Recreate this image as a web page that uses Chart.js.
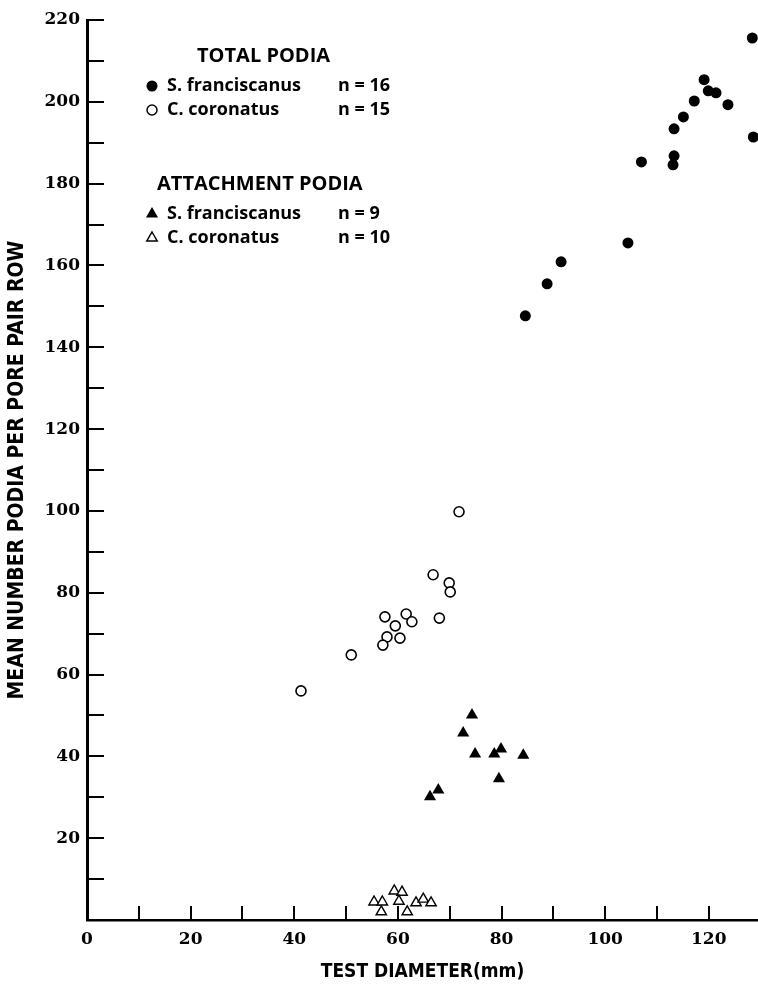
<!DOCTYPE html>
<html>
<head>
<meta charset="utf-8">
<script src="https://cdn.jsdelivr.net/npm/chart.js@4.4.1/dist/chart.umd.min.js"></script>
<style>
html, body { margin: 0; padding: 0; background: #fff; }
</style>
</head>
<body>
<canvas id="canvas" width="758" height="989"></canvas>
<script>
// total podia, S. franciscanus (n = 16)
var sfTotalDiam  = [84.6, 88.8, 91.5, 104.4, 107.0, 113.1, 113.3, 113.3, 115.1, 117.2, 119.1, 119.9, 121.4, 123.7, 128.6, 128.4];
var sfTotalPodia = [147.7, 155.5, 160.9, 165.5, 185.3, 184.6, 186.8, 193.4, 196.3, 200.2, 205.4, 202.7, 202.2, 199.3, 191.4, 215.6];

// total podia, C. coronatus (n = 15)
var ccTotalDiam  = [71.8, 66.8, 69.9, 70.1, 57.5, 61.6, 62.7, 59.5, 68.0, 57.9, 60.4, 57.1, 51.0, 41.3];
var ccTotalPodia = [99.8, 84.4, 82.4, 80.2, 74.1, 74.8, 72.9, 71.9, 73.8, 69.2, 68.9, 67.2, 64.8, 56.0];

// attachment podia, S. franciscanus (n = 9)
var sfAttDiam  = [74.3, 72.6, 74.9, 78.6, 79.9, 84.2, 79.5, 66.2, 67.8];
var sfAttPodia = [50.1, 45.7, 40.6, 40.6, 41.8, 40.3, 34.5, 30.1, 31.8];

// attachment podia, C. coronatus (n = 10)
var ccAttDiam  = [55.4, 57.0, 56.8, 59.3, 60.8, 60.2, 61.8, 63.5, 64.9, 66.4];
var ccAttPodia = [4.4, 4.4, 2.0, 7.1, 6.8, 4.6, 2.0, 4.2, 5.1, 4.2];

// tick positions (labels only every 20)
var xTickValues = [0, 10, 20, 30, 40, 50, 60, 70, 80, 90, 100, 110, 120];
var yTickValues = [0, 10, 20, 30, 40, 50, 60, 70, 80, 90, 100, 110, 120, 130, 140, 150, 160, 170, 180, 190, 200, 210, 220];

var xTitle = 'TEST DIAMETER(mm)';
var yTitle = 'MEAN NUMBER PODIA PER PORE PAIR ROW';

var legendGroups = [
  {title: 'TOTAL PODIA', rows: [
    {name: 'S. franciscanus', n: 'n = 16', style: 'circle', filled: true},
    {name: 'C. coronatus', n: 'n = 15', style: 'circle', filled: false}
  ]},
  {title: 'ATTACHMENT PODIA', rows: [
    {name: 'S. franciscanus', n: 'n = 9', style: 'triangle', filled: true},
    {name: 'C. coronatus', n: 'n = 10', style: 'triangle', filled: false}
  ]}
];

function toPoints(xs, ys) {
  return xs.map(function (x, i) { return {x: x, y: ys[i]}; });
}

function drawMark(ctx, style, filled, x, y) {
  ctx.beginPath();
  if (style === 'circle') {
    ctx.arc(x, y, filled ? 5.5 : 5, 0, Math.PI * 2);
  } else {
    var r = filled ? 7 : 6;
    ctx.moveTo(x, y - r);
    ctx.lineTo(x + r * 0.866, y + r * 0.5);
    ctx.lineTo(x - r * 0.866, y + r * 0.5);
    ctx.closePath();
  }
  if (filled) {
    ctx.fillStyle = '#000';
    ctx.fill();
  } else {
    ctx.fillStyle = '#fff';
    ctx.fill();
    ctx.lineWidth = 1.5;
    ctx.strokeStyle = '#000';
    ctx.stroke();
  }
}

// tick marks point into the plot, like the original figure
var insideTicks = {
  id: 'insideTicks',
  beforeDatasetsDraw: function (chart) {
    var ctx = chart.ctx, a = chart.chartArea;
    var xs = chart.scales.x, ys = chart.scales.y;
    ctx.save();
    ctx.strokeStyle = '#000';
    ctx.lineWidth = 2;
    ctx.beginPath();
    ys.ticks.forEach(function (t) {
      if (t.value === 0) return;
      var py = Math.round(ys.getPixelForValue(t.value));
      ctx.moveTo(a.left, py);
      ctx.lineTo(a.left + 17, py);
    });
    xs.ticks.forEach(function (t) {
      if (t.value === 0) return;
      var px = Math.round(xs.getPixelForValue(t.value));
      ctx.moveTo(px, a.bottom);
      ctx.lineTo(px, a.bottom - 14);
    });
    ctx.stroke();
    ctx.restore();
  }
};

var keyBox = {
  id: 'keyBox',
  afterDraw: function (chart) {
    var ctx = chart.ctx, a = chart.chartArea;
    var markX = a.left + 65, textX = a.left + 80, nX = a.left + 251;
    var tops = [36, 164];
    var headX = [a.left + 110, a.left + 70];
    ctx.save();
    ctx.textBaseline = 'middle';
    legendGroups.forEach(function (g, gi) {
      var y = a.top + tops[gi];
      ctx.fillStyle = '#000';
      ctx.font = 'bold 20px "Open Sans", Lato, sans-serif';
      ctx.fillText(g.title, headX[gi], y);
      g.rows.forEach(function (r, ri) {
        var ry = y + 30 + ri * 24;
        drawMark(ctx, r.style, r.filled, markX, ry);
        ctx.fillStyle = '#000';
        ctx.font = 'bold 18px "Open Sans", Lato, sans-serif';
        ctx.fillText(r.name, textX, ry);
        ctx.fillText(r.n, nX, ry);
      });
    });
    ctx.restore();
  }
};

var tickFont = {family: '"DejaVu Serif", serif', size: 17, weight: 'bold'};
var titleFamily = '"DejaVu Sans Condensed", "Liberation Sans Narrow", "Roboto Condensed", sans-serif';

var ctx = document.getElementById('canvas').getContext('2d');
var myChart = new Chart(ctx, {
  type: 'scatter',
  data: {
    datasets: [
      {
        label: 'S. franciscanus total',
        data: toPoints(sfTotalDiam, sfTotalPodia),
        pointStyle: 'circle',
        pointRadius: 5.5,
        backgroundColor: '#000',
        borderColor: '#000',
        borderWidth: 0
      },
      {
        label: 'C. coronatus total',
        data: toPoints(ccTotalDiam, ccTotalPodia),
        pointStyle: 'circle',
        pointRadius: 5,
        backgroundColor: '#fff',
        borderColor: '#000',
        borderWidth: 1.6
      },
      {
        label: 'S. franciscanus attachment',
        data: toPoints(sfAttDiam, sfAttPodia),
        pointStyle: 'triangle',
        pointRadius: 7,
        backgroundColor: '#000',
        borderColor: '#000',
        borderWidth: 0
      },
      {
        label: 'C. coronatus attachment',
        data: toPoints(ccAttDiam, ccAttPodia),
        pointStyle: 'triangle',
        pointRadius: 6,
        backgroundColor: '#fff',
        borderColor: '#000',
        borderWidth: 1.4
      }
    ]
  },
  options: {
    responsive: false,
    animation: false,
    events: [],
    layout: {autoPadding: false, padding: {top: 20, left: 0, right: 0, bottom: 0}},
    plugins: {
      legend: {display: false},
      tooltip: {enabled: false}
    },
    scales: {
      x: {
        type: 'linear',
        min: 0,
        max: 129.5,
        afterBuildTicks: function (s) {
          s.ticks = xTickValues.map(function (v) { return {value: v}; });
        },
        afterFit: function (s) {
          s.height = 69;
          s.paddingRight = 0;
        },
        ticks: {
          autoSkip: false,
          maxRotation: 0,
          padding: 9,
          color: '#000',
          font: tickFont,
          callback: function (v) { return v % 20 === 0 ? v : ''; }
        },
        grid: {drawOnChartArea: false, drawTicks: false},
        border: {display: true, color: '#000', width: 2.5},
        title: {display: true, text: xTitle, color: '#000', font: {family: titleFamily, size: 19, weight: 'bold'}, padding: {top: 0, bottom: 6}}
      },
      y: {
        type: 'linear',
        min: 0,
        max: 220,
        afterBuildTicks: function (s) {
          s.ticks = yTickValues.map(function (v) { return {value: v}; });
        },
        afterFit: function (s) { s.width = 87; },
        ticks: {
          autoSkip: false,
          padding: 7,
          color: '#000',
          font: tickFont,
          callback: function (v) { return (v % 20 === 0 && v !== 0) ? v : ''; }
        },
        grid: {drawOnChartArea: false, drawTicks: false},
        border: {display: true, color: '#000', width: 3},
        title: {display: true, text: yTitle, color: '#000', font: {family: titleFamily, size: 21, weight: 'bold'}, padding: {top: 5, bottom: 0}}
      }
    }
  },
  plugins: [insideTicks, keyBox]
});
</script>
</body>
</html>
